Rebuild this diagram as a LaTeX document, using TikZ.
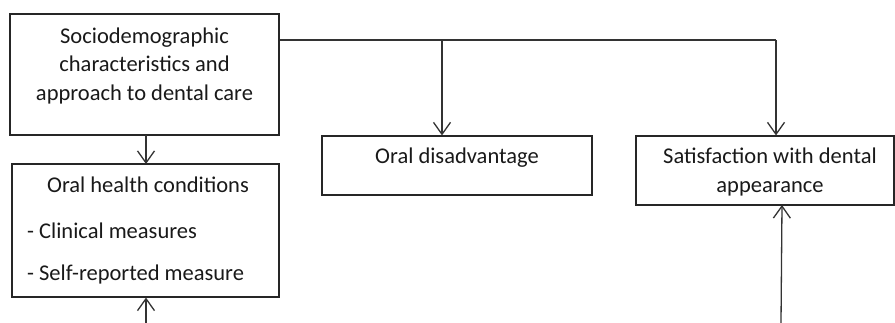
\documentclass[tikz,border=0pt]{standalone}
\usepackage{fontspec}
\setmainfont{Carlito}
\usetikzlibrary{arrows.meta}
\begin{document}
\begin{tikzpicture}[x=1pt,y=-1pt,
  box/.style={draw=black!85, line width=1.1pt, rectangle, inner sep=0pt},
  txt/.style={font=\fontsize{22.5}{28.5}\selectfont, text=black!90, inner sep=0pt, align=center},
  conn/.style={draw=black!80, line width=1.3pt},
  arr/.style={conn, -{Straight Barb[length=12pt,width=17pt,line width=1.3pt]}}]
\useasboundingbox (0,0) rectangle (895,323);
% boxes
\node[box, minimum width=269pt, minimum height=121pt] (soc) at (144.5,74.5) {};
\node[box, minimum width=267pt, minimum height=133pt] (ohc) at (145.5,230.5) {};
\node[box, minimum width=270pt, minimum height=59pt] (dis) at (457,165.5) {};
\node[box, minimum width=258pt, minimum height=69pt] (sat) at (765,170.5) {};
% texts
\node[txt] (soct) at (144.5,66) {Sociodemographic\\characteristics and\\approach to dental care};
\node[txt] (ohct) at (148,185) {Oral health conditions};
\node[txt, anchor=west] (ohc1) at (27,231) {- Clinical measures};
\node[txt, anchor=west] (ohc2) at (27,275) {- Self-reported measure};
\node[txt] (dist) at (457,158) {Oral disadvantage};
\node[txt] (satt) at (770,172) {Satisfaction with dental\\appearance};
% connectors
\coordinate (j1) at (442,40);
\coordinate (j2) at (776,40);
\coordinate (b1) at (146,323);
\coordinate (b2) at (781,323);
\draw[conn] (soc.east |- j1) -- (j2);
\draw[arr] (j1) -- (j1 |- dis.north);
\draw[arr] (j2) -- (j2 |- sat.north);
\draw[arr] (146,135) -- (146,164);
\draw[arr] (b1) -- (b1 |- ohc.south);
\draw[arr] (b2) -- (782,205);
\end{tikzpicture}
\end{document}
